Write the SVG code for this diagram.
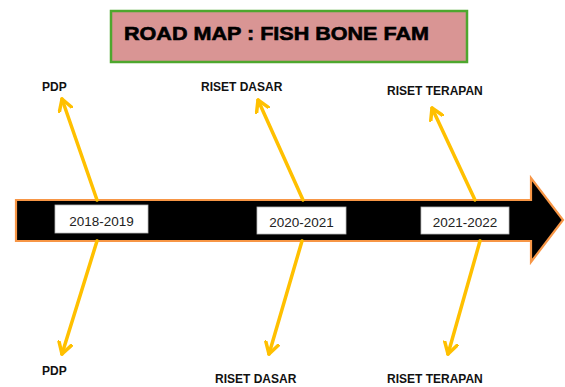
<svg xmlns="http://www.w3.org/2000/svg" width="565" height="387" viewBox="0 0 565 387">
<defs>
<marker id="ah" viewBox="0 0 16 16" refX="12" refY="8" markerWidth="16" markerHeight="16" markerUnits="userSpaceOnUse" orient="auto">
<path d="M1,1.5 L12,8 L1,14.5" fill="none" stroke="#ffc000" stroke-width="3.5" stroke-linecap="round" stroke-linejoin="round"/>
</marker>
<style>
.bone{fill:none;stroke:#ffc000;stroke-width:3.5;stroke-linecap:round;marker-end:url(#ah)}
.lbl{font-family:"Liberation Sans",Arial,sans-serif;font-weight:bold;font-size:12px;fill:#111}
.yr{fill:#fff;stroke:#bbb;stroke-width:0.8}
.yt{font-family:"Liberation Sans",Arial,sans-serif;font-size:13.5px;fill:#222}
</style>
</defs>
<rect width="565" height="387" fill="#fff"/>
<g id="title">
<rect x="111" y="11" width="356" height="51" fill="#d99594" stroke="#4ea72e" stroke-width="2.5"/>
<text x="124" y="40" font-family="'Liberation Sans',Arial,sans-serif" font-weight="bold" font-size="19" textLength="305" lengthAdjust="spacingAndGlyphs" fill="#000" stroke="#000" stroke-width="0.6">ROAD MAP : FISH BONE FAM</text>
</g>
<g id="spine">
<polygon points="16,200 531,200 531,178 563,220 531,262 531,241 16,241" fill="#000" stroke="#f79646" stroke-width="2.2" stroke-linejoin="miter"/>
</g>
<g id="connectors">
<line class="bone" x1="97" y1="200" x2="62" y2="99"/>
<line class="bone" x1="303" y1="200" x2="258" y2="100"/>
<line class="bone" x1="475" y1="200" x2="432" y2="108"/>
<line class="bone" x1="97" y1="241" x2="62" y2="354"/>
<line class="bone" x1="302" y1="241" x2="269" y2="354"/>
<line class="bone" x1="480" y1="241" x2="448" y2="354"/>
</g>
<g id="y2018"><rect class="yr" x="55" y="205" width="93" height="28"/><text class="yt" x="101.5" y="225.5" text-anchor="middle">2018-2019</text></g>
<g id="y2020"><rect class="yr" x="257" y="207" width="89" height="27"/><text class="yt" x="301.5" y="227" text-anchor="middle">2020-2021</text></g>
<g id="y2021"><rect class="yr" x="421" y="207" width="88" height="27"/><text class="yt" x="465" y="227" text-anchor="middle">2021-2022</text></g>
<g id="pdp-top"><text class="lbl" x="42" y="91">PDP</text></g>
<g id="dasar-top"><text class="lbl" x="201" y="91">RISET DASAR</text></g>
<g id="terapan-top"><text class="lbl" x="387" y="95">RISET TERAPAN</text></g>
<g id="pdp-bottom"><text class="lbl" x="42" y="375">PDP</text></g>
<g id="dasar-bottom"><text class="lbl" x="215" y="383">RISET DASAR</text></g>
<g id="terapan-bottom"><text class="lbl" x="387" y="383">RISET TERAPAN</text></g>
</svg>
